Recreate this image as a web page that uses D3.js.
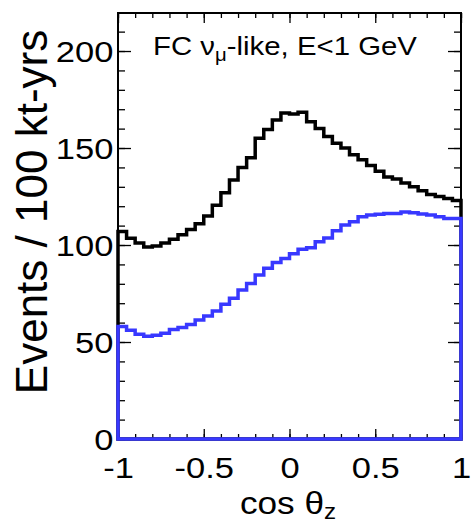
<!DOCTYPE html>
<html><head><meta charset="utf-8">
<script src="https://cdn.jsdelivr.net/npm/d3@7"></script>
<style>body{margin:0;background:#fff} text{font-family:"Liberation Sans",Arial,Helvetica,sans-serif;fill:#000}</style></head>
<body><svg id="c" width="474" height="525"></svg>
<script>
// bin edges of cos(theta_z)
const binEdges = [-1,-0.95,-0.9,-0.85,-0.8,-0.75,-0.7,-0.65,-0.6,-0.55,-0.5,-0.45,-0.4,-0.35,-0.3,-0.25,-0.2,-0.15,-0.1,-0.05,0,0.05,0.1,0.15,0.2,0.25,0.3,0.35,0.4,0.45,0.5,0.55,0.6,0.65,0.7,0.75,0.8,0.85,0.9,0.95,1];
// black histogram (no oscillation)
const noOsc = [107,103.5,101,99,99.5,101,103,105.3,108,111,115,120.5,127,133.5,140,145,155,159.5,164.5,168,167.5,168.5,163.5,160,156,152.5,150,146.5,144,141,138,135,134,132,130,128,126,125,124,123];
// blue histogram (with oscillation)
const osc = [58,56,54,53,53.5,54.5,56.5,57.5,59,61.3,63.4,66,69.4,72.5,76.8,80.2,84.5,88,91,93,95.5,97.8,98.6,101.7,103.6,107.4,110.3,112,114.6,115.5,115.8,116.3,116.3,117,116.6,116,115.5,114.6,113.7,113.7];
const xTickLabels = [-1,-0.5,0,0.5,1];
const yTickLabels = [0,50,100,150,200];
const xMinorTicks = [-1,-0.9,-0.8,-0.7,-0.6,-0.5,-0.4,-0.3,-0.2,-0.1,0,0.1,0.2,0.3,0.4,0.5,0.6,0.7,0.8,0.9,1];
const yMinorTicks = [0,10,20,30,40,50,60,70,80,90,100,110,120,130,140,150,160,170,180,190,200,210,220];
const titleText = "FC ν";
const xTitle = "cos θ";

const SX = 1.15; // horizontal text stretch seen in the reference
const L=118, R=461, T=13, B=439;
const svg = d3.select("#c");
const x = d3.scaleLinear().domain([-1,1]).range([L,R]);
const y = d3.scaleLinear().domain([0,219.6]).range([B,T]);

function histPath(vals){
  const p = d3.path();
  p.moveTo(x(binEdges[0]), y(0));
  vals.forEach((v,i)=>{ p.lineTo(x(binEdges[i]), y(v)); p.lineTo(x(binEdges[i+1]), y(v)); });
  p.lineTo(x(binEdges[binEdges.length-1]), y(0));
  p.closePath();
  return p.toString();
}

const fmt = d => String(d);
const g = svg.append("g");
function styleAxis(sel){ sel.select(".domain").remove(); sel.selectAll("line").attr("stroke","#000").attr("stroke-width",1.3); }
g.append("g").attr("transform",`translate(${L},0)`).call(d3.axisLeft(y).tickValues(yMinorTicks).tickSize(-7).tickFormat("")).call(styleAxis);
g.append("g").attr("transform",`translate(${L},0)`).call(d3.axisLeft(y).tickValues(yTickLabels).tickSize(-13).tickPadding(4).tickFormat(fmt)).call(styleAxis)
  .selectAll("text").attr("font-size",30).attr("dy","0.36em").attr("transform",`scale(${SX},1)`);
g.append("g").attr("transform",`translate(${R},0)`).call(d3.axisRight(y).tickValues(yMinorTicks).tickSize(-7).tickFormat("")).call(styleAxis);
g.append("g").attr("transform",`translate(${R},0)`).call(d3.axisRight(y).tickValues(yTickLabels).tickSize(-13).tickFormat("")).call(styleAxis);
g.append("g").attr("transform",`translate(0,${B})`).call(d3.axisBottom(x).tickValues(xMinorTicks).tickSize(-5).tickFormat("")).call(styleAxis);
g.append("g").attr("transform",`translate(0,${B})`).call(d3.axisBottom(x).tickValues(xTickLabels).tickSize(-10).tickFormat(fmt)).call(styleAxis)
  .selectAll("text").attr("font-size",30).attr("dy","0.71em").attr("y",18).attr("transform",`scale(${SX},1)`);
g.append("g").attr("transform",`translate(0,${T})`).call(d3.axisTop(x).tickValues(xMinorTicks).tickSize(-5).tickFormat("")).call(styleAxis);
g.append("g").attr("transform",`translate(0,${T})`).call(d3.axisTop(x).tickValues(xTickLabels).tickSize(-10).tickFormat("")).call(styleAxis);

// frame
svg.append("rect").attr("x",L).attr("y",T).attr("width",R-L).attr("height",B-T).attr("fill","none").attr("stroke","#000").attr("stroke-width",2);

// histograms
svg.append("path").attr("d",histPath(noOsc)).attr("fill","none").attr("stroke","#000").attr("stroke-width",3.5).attr("stroke-linejoin","miter");
svg.append("path").attr("d",histPath(osc)).attr("fill","none").attr("stroke","#3838ff").attr("stroke-width",3.5).attr("stroke-linejoin","miter");

// title
const tg = svg.append("g").attr("transform",`translate(153,55) scale(1.13,1)`);
const t = tg.append("text").attr("font-size",26);
t.append("tspan").text(titleText);
t.append("tspan").attr("font-size",18).attr("dy",6).text("μ");
t.append("tspan").attr("dy",-6).text("-like, E<1 GeV");

// x title
const xg = svg.append("g").attr("transform",`translate(288,514) scale(1.1,1)`);
const xt = xg.append("text").attr("text-anchor","middle").attr("font-size",32);
xt.append("tspan").text(xTitle);
xt.append("tspan").attr("font-size",22).attr("dy",5).text("z");

// y title
svg.append("text").attr("transform","translate(47,212) rotate(-90)").attr("text-anchor","middle").attr("font-size",44).text("Events / 100 kt-yrs");
</script></body></html>
